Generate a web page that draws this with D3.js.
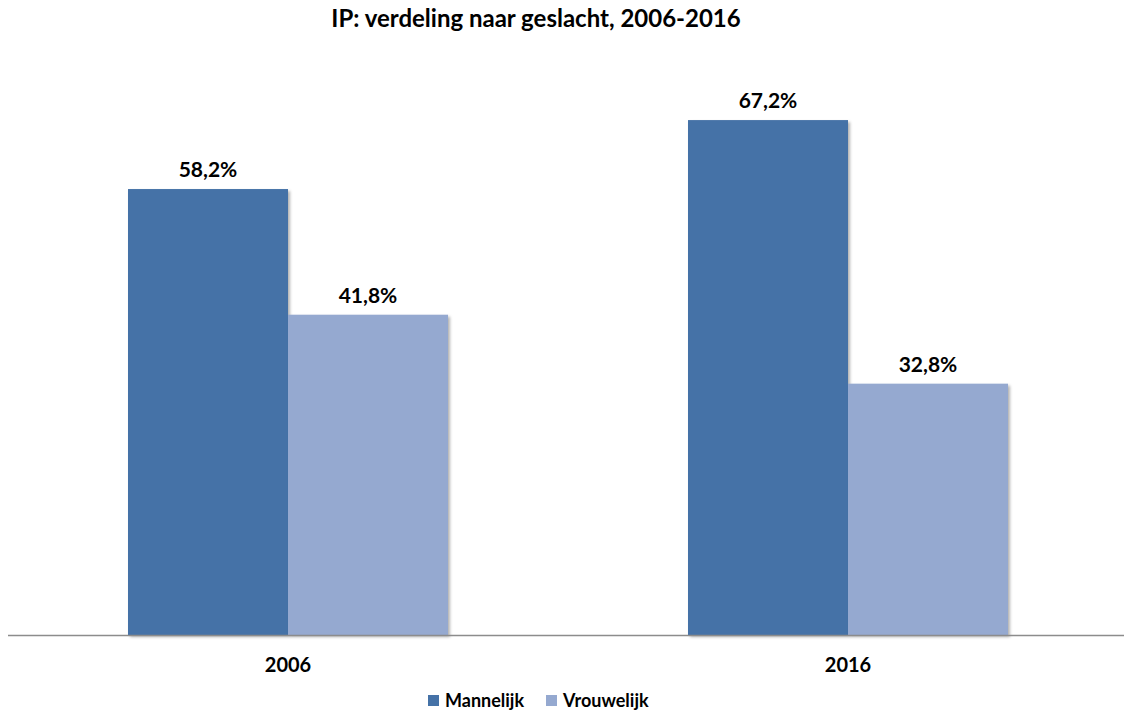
<!DOCTYPE html>
<html>
<head>
<meta charset="utf-8">
<script src="https://cdn.jsdelivr.net/npm/d3@7"></script>
<style>
  body { margin: 0; background: #fff; }
  svg { font-family: Lato, "Open Sans", sans-serif; font-weight: bold; }
</style>
</head>
<body>
<div id="chart"></div>
<script>
// Data
const years = ["2006", "2016"];
const series = ["Mannelijk", "Vrouwelijk"];
const mannelijk = [58.2, 67.2];
const vrouwelijk = [41.8, 32.8];
const colors = ["#4572A7", "#95A9D0"];

const width = 1124, height = 711;

const svg = d3.select("#chart").append("svg")
  .attr("width", width)
  .attr("height", height);

// soft drop shadow like the original bars
const defs = svg.append("defs");
defs.append("filter")
  .attr("id", "shadow")
  .attr("x", "-5%").attr("y", "-5%").attr("width", "115%").attr("height", "115%")
  .append("feDropShadow")
  .attr("dx", 2).attr("dy", 2)
  .attr("stdDeviation", 1.5)
  .attr("flood-color", "#000")
  .attr("flood-opacity", 0.3);

// Scales
const x = d3.scaleBand()
  .domain(years)
  .range([8, 1128])
  .paddingInner(0.4286)
  .paddingOuter(0.2143);

const xSub = d3.scaleBand()
  .domain(series)
  .range([0, x.bandwidth()]);

const y = d3.scaleLinear()
  .domain([0, 80])
  .range([635, 22]);

// Build rows
const rows = years.map((yr, i) => ({
  year: yr,
  values: [
    { key: series[0], value: mannelijk[i] },
    { key: series[1], value: vrouwelijk[i] }
  ]
}));

// Title
svg.append("text")
  .attr("x", 536)
  .attr("y", 27)
  .attr("text-anchor", "middle")
  .attr("font-size", 24)
  .attr("fill", "#000")
  .text("IP: verdeling naar geslacht, 2006-2016");

// Bars
const groups = svg.selectAll("g.year")
  .data(rows)
  .enter()
  .append("g")
  .attr("class", "year")
  .attr("transform", d => `translate(${x(d.year)},0)`);

groups.selectAll("rect")
  .data(d => d.values)
  .enter()
  .append("rect")
  .attr("x", d => xSub(d.key))
  .attr("y", d => y(d.value))
  .attr("width", xSub.bandwidth())
  .attr("height", d => y(0) - y(d.value))
  .attr("fill", (d, i) => colors[i])
  .attr("filter", "url(#shadow)");

// Value labels
groups.selectAll("text.val")
  .data(d => d.values)
  .enter()
  .append("text")
  .attr("class", "val")
  .attr("x", d => xSub(d.key) + xSub.bandwidth() / 2)
  .attr("y", d => y(d.value) - 12)
  .attr("text-anchor", "middle")
  .attr("font-size", 21)
  .attr("fill", "#000")
  .text(d => d3.format(".1f")(d.value).replace(".", ",") + "%");

// X axis
const xAxis = svg.append("g")
  .attr("transform", `translate(0,${y(0)})`)
  .call(d3.axisBottom(x).tickSize(0).tickPadding(23));

xAxis.select(".domain")
  .attr("d", `M8,0.5H1124`)
  .attr("stroke", "#8c8c8c")
  .attr("stroke-width", 1.5);

xAxis.selectAll("text")
  .attr("font-size", 20)
  .attr("font-family", "Lato, 'Open Sans', sans-serif")
  .attr("font-weight", "bold")
  .attr("fill", "#000");

// Legend
const legendPos = [428, 546];
const legend = svg.selectAll("g.legend")
  .data(series)
  .enter()
  .append("g")
  .attr("class", "legend")
  .attr("transform", (d, i) => `translate(${legendPos[i]},695)`);

legend.append("rect")
  .attr("width", 11)
  .attr("height", 11)
  .attr("fill", (d, i) => colors[i]);

legend.append("text")
  .attr("x", 17)
  .attr("y", 12)
  .attr("font-size", 18)
  .attr("fill", "#000")
  .text(d => d);
</script>
</body>
</html>
